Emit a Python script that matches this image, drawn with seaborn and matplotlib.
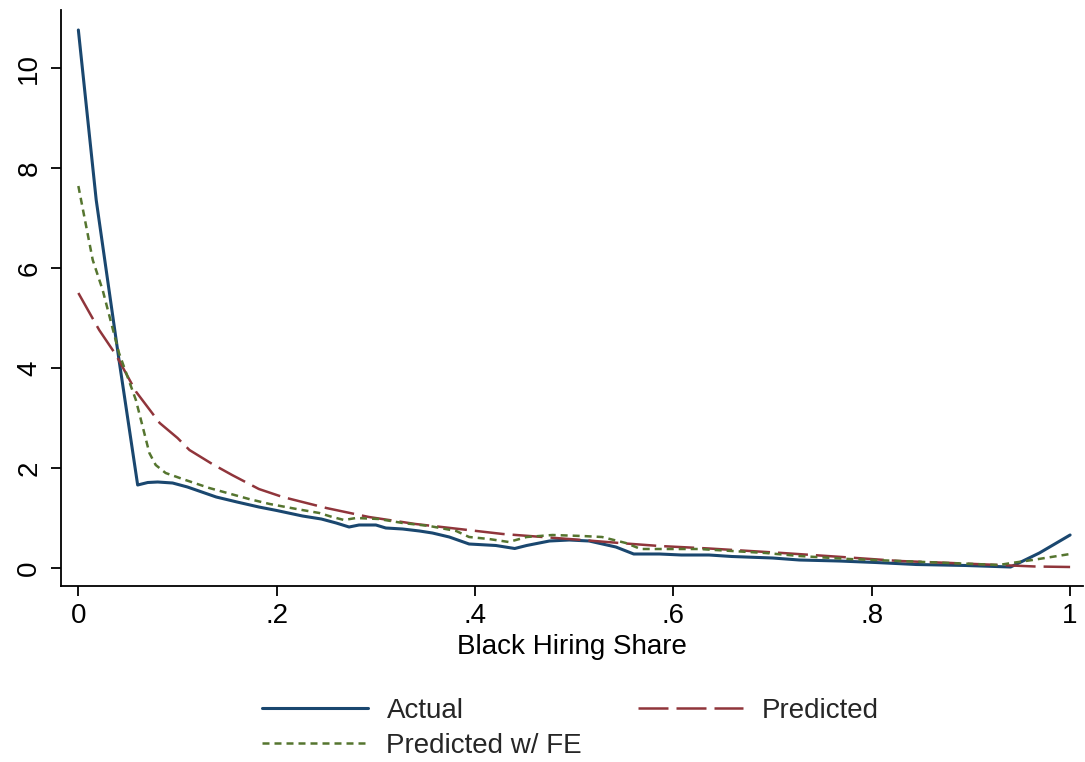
import matplotlib
matplotlib.use("Agg")
import matplotlib.pyplot as plt
import seaborn as sns
import numpy as np

sns.set_theme(style="white")
plt.rcParams['font.family'] = ['Liberation Sans', 'DejaVu Sans']

# ---- data ----
actual_x = [0, 0.018, 0.041, 0.0598, 0.07, 0.08, 0.095, 0.11, 0.139, 0.16, 0.182, 0.2,
            0.226, 0.245, 0.26, 0.273, 0.283, 0.30, 0.31, 0.327, 0.344, 0.357, 0.374, 0.394,
            0.421, 0.44, 0.452, 0.475, 0.495, 0.515, 0.542, 0.56, 0.586, 0.608, 0.636, 0.659,
            0.70, 0.727, 0.767, 0.804, 0.845, 0.895, 0.94, 0.969, 1.0]
actual_y = [10.76, 7.36, 4.16, 1.66, 1.71, 1.72, 1.70, 1.62, 1.42, 1.32, 1.22, 1.15,
            1.04, 0.98, 0.9, 0.82, 0.86, 0.86, 0.8, 0.78, 0.74, 0.7, 0.62, 0.48,
            0.45, 0.39, 0.45, 0.54, 0.56, 0.54, 0.42, 0.28, 0.28, 0.26, 0.26, 0.23,
            0.2, 0.16, 0.14, 0.11, 0.07, 0.05, 0.02, 0.3, 0.66]

pred_x = [0, 0.021, 0.038, 0.058, 0.082, 0.1, 0.112, 0.135, 0.155, 0.182, 0.206, 0.25, 0.293,
          0.34, 0.384, 0.428, 0.468, 0.508, 0.552, 0.586, 0.636, 0.71, 0.77, 0.828, 0.88,
          0.928, 0.965, 1.0]
pred_y = [5.5, 4.76, 4.26, 3.53, 2.9, 2.6, 2.36, 2.08, 1.86, 1.58, 1.42, 1.2, 1.02,
          0.88, 0.78, 0.68, 0.62, 0.56, 0.49, 0.44, 0.39, 0.3, 0.22, 0.14, 0.1,
          0.06, 0.03, 0.02]

fe_x = [0, 0.0145, 0.0245, 0.041, 0.058, 0.0716, 0.078, 0.088, 0.108, 0.132, 0.172, 0.193,
        0.22, 0.243, 0.256, 0.268, 0.28, 0.303, 0.327, 0.354, 0.381, 0.394, 0.414, 0.434,
        0.452, 0.478, 0.508, 0.528, 0.552, 0.567, 0.593, 0.626, 0.659, 0.693, 0.727, 0.777,
        0.828, 0.878, 0.928, 0.941, 0.962, 1.0]
fe_y = [7.64, 6.16, 5.56, 4.3, 3.36, 2.3, 2.06, 1.9, 1.76, 1.6, 1.38, 1.28,
        1.18, 1.1, 1.02, 0.96, 1.0, 0.98, 0.9, 0.84, 0.74, 0.62, 0.58, 0.52,
        0.62, 0.66, 0.64, 0.62, 0.5, 0.38, 0.38, 0.38, 0.34, 0.3, 0.24, 0.18,
        0.14, 0.1, 0.06, 0.1, 0.16, 0.28]

x_ticks = [0, 0.2, 0.4, 0.6, 0.8, 1.0]
x_ticklabels = ["0", ".2", ".4", ".6", ".8", "1"]
y_ticks = [0, 2, 4, 6, 8, 10]
y_ticklabels = ["0", "2", "4", "6", "8", "10"]

navy = "#1a476f"
maroon = "#90353b"
green = "#55752f"

FS = 20

fig = plt.figure(figsize=(10.85, 7.62), dpi=100)
ax = fig.add_axes([61/1085, 1 - 586/762, (1083-61)/1085, (586-10)/762])

sns.lineplot(x=actual_x, y=actual_y, ax=ax, color=navy, lw=2.2, label="Actual")
sns.lineplot(x=pred_x, y=pred_y, ax=ax, color=maroon, lw=1.8, label="Predicted")
sns.lineplot(x=fe_x, y=fe_y, ax=ax, color=green, lw=1.8, label="Predicted w/ FE")
lines = ax.get_lines()
lines[1].set_dashes((12, 3.2))
lines[2].set_dashes((2.8, 2.0))

ax.set_xlim(-0.0175, 1.013)
ax.set_ylim(-0.36, 11.16)
ax.set_xticks(x_ticks)
ax.set_xticklabels(x_ticklabels)
ax.set_yticks(y_ticks)
ax.set_yticklabels(y_ticklabels, rotation=90, va="center")
ax.tick_params(axis="both", direction="out", length=7.5, width=1.3, color="black",
               labelsize=FS, labelcolor="black", pad=5, bottom=True, left=True)
ax.tick_params(axis="y", pad=6)
for s in ["top", "right"]:
    ax.spines[s].set_visible(False)
for s in ["left", "bottom"]:
    ax.spines[s].set_color("black")
    ax.spines[s].set_linewidth(1.3)
ax.set_xlabel("Black Hiring Share", fontsize=FS, color="black", labelpad=3)
ax.set_ylabel("")

h, l = ax.get_legend_handles_labels()
ax.get_legend().remove()
order = [0, 2, 1]
fig.legend([h[i] for i in order], [l[i] for i in order], ncol=2, loc="upper left",
           bbox_to_anchor=(237/1085, 1 - 673/762), frameon=False, fontsize=FS,
           handlelength=3.8, handletextpad=0.68, columnspacing=2.0, labelspacing=0.32)

fig.savefig("out.png", dpi=100, facecolor="white")
